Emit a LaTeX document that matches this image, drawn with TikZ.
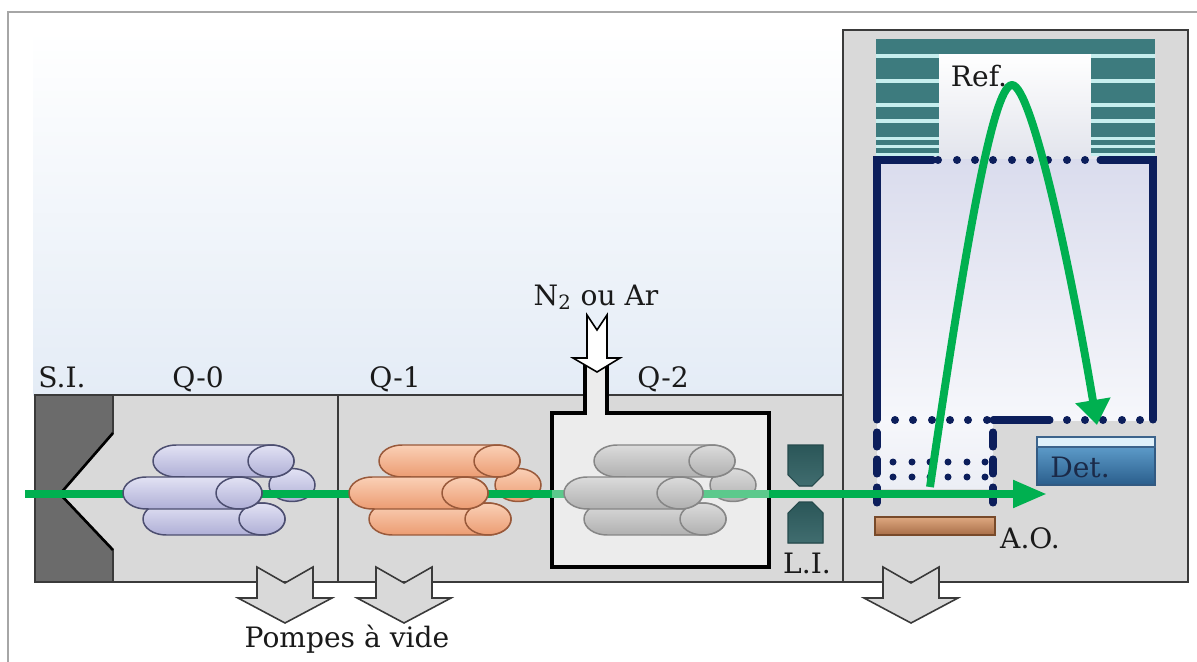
\documentclass[tikz,border=0pt]{standalone}
\usepackage{fontspec}
\setmainfont{DejaVu Serif}
\usetikzlibrary{arrows.meta}

\definecolor{beamgreen}{HTML}{00B050}
\definecolor{beamlight}{HTML}{5CC98C}
\definecolor{navy}{HTML}{0C1E5B}
\definecolor{stripe}{HTML}{3D7B7E}
\definecolor{stripegap}{HTML}{C6EEEE}
\definecolor{panel}{HTML}{D9D9D9}
\definecolor{sourcegray}{HTML}{6B6B6B}
\definecolor{edge}{HTML}{3A3A3A}
\definecolor{labelink}{HTML}{1A1A1A}
\definecolor{lavtop}{HTML}{E2E2F4}
\definecolor{lavbot}{HTML}{AFAFD6}
\definecolor{lavedge}{HTML}{4C4E70}
\definecolor{ortop}{HTML}{FAD0B6}
\definecolor{orbot}{HTML}{EC9C72}
\definecolor{oredge}{HTML}{99593A}

% one rod of a quadrupole: left x, top y, end-cap x, style
\newcommand\qrod[4]{%
  \path[#4] (#3,#2) -- ({#1+23},#2)
    arc[start angle=90,end angle=270,x radius=0.46cm,y radius=0.32cm]
    -- (#3,{#2+32})
    arc[start angle=-90,end angle=90,x radius=0.46cm,y radius=0.32cm] -- cycle;
  \path[#4] (#3,{#2+16}) ellipse[x radius=0.46cm,y radius=0.32cm];
}
% rods behind the beam (shift, style)
\newcommand\qback[2]{%
  \path[#2] ({292+#1},485) ellipse[x radius=0.46cm,y radius=0.33cm];
  \qrod{153+#1}{445}{271+#1}{#2}
  \qrod{143+#1}{503}{262+#1}{#2}
}
% rod in front of the beam (shift, style)
\newcommand\qfront[2]{%
  \qrod{123+#1}{477}{239+#1}{#2}
}
% hollow pumping arrow pointing down, centred on x
\newcommand\pumparrow[1]{%
  \filldraw[pump] ({#1-28},567) -- (#1,583) -- ({#1+28},567) -- ({#1+28},598)
    -- ({#1+47},598) -- (#1,623) -- ({#1-47},598) -- ({#1-28},598) -- cycle;
}

\begin{document}
\begin{tikzpicture}[x=0.02cm,y=-0.02cm,
  every node/.style={font=\fontsize{16}{19}\selectfont, text=labelink, inner sep=0pt},
  chamber/.style={draw=edge, fill=panel, line width=0.9pt},
  pump/.style={draw=edge, fill=panel, line width=0.9pt, line join=miter},
  rodA/.style={top color=lavtop, bottom color=lavbot, draw=lavedge, line width=0.85pt},
  rodB/.style={top color=ortop, bottom color=orbot, draw=oredge, line width=0.85pt},
  rodC/.style={top color=gray!28, bottom color=gray!62, draw=gray!95, line width=0.85pt},
  beam/.style={draw=beamgreen, line width=4.5pt},
  navyline/.style={draw=navy, line width=4pt, line cap=round},
  navydot/.style={fill=navy},
  lens/.style={draw=stripe!60!black, top color=stripe!70!black, bottom color=stripe!90!white!80!black, line width=0.6pt},
]
\useasboundingbox (0,0) rectangle (1197,662);
\clip (0,0) rectangle (1197,662);
\fill[white] (0,0) rectangle (1197,662);

% outer frame
\draw[gray!70, line width=1.2pt] (8,12) rectangle (1240,720);

% sky-like backdrop behind the instrument
\shade[top color=white, bottom color={rgb,255:red,228;green,236;blue,246}] (33,30) rectangle (843,395);

% low-pressure chamber with quadrupoles
\draw[chamber] (35,395) rectangle (843,582);
\draw[edge, line width=0.9pt] (338,395) -- (338,582);

% ion source
\filldraw[draw=edge, fill=sourcegray, line width=0.9pt]
  (35,395) -- (113,395) -- (113,433) -- (60,494) -- (113,550) -- (113,582) -- (35,582) -- cycle;
\draw[black, line width=1.5pt] (113,433) -- (60,494) -- (113,550);

% time-of-flight chamber
\draw[chamber] (843,30) rectangle (1188,582);

% reflectron region
\shade[top color=white, bottom color={rgb,255:red,226;green,228;blue,236}] (876,54) rectangle (1155,160);
\fill[stripegap] (876,54) rectangle (939,156);
\fill[stripegap] (1091,54) rectangle (1155,156);
\fill[stripe] (876,39) rectangle (1155,54);
\foreach \ya/\yb in {58/79, 83/103, 107/119, 123/137, 140/145, 148/153}{
  \fill[stripe] (876,\ya) rectangle (939,\yb);
  \fill[stripe] (1091,\ya) rectangle (1155,\yb);
}

% flight tube
\shade[top color={rgb,255:red,218;green,220;blue,237}, bottom color={rgb,255:red,246;green,247;blue,251}] (877,160) rectangle (1153,420);
\shade[top color={rgb,255:red,246;green,247;blue,251}, bottom color={rgb,255:red,236;green,238;blue,245}] (877,420) rectangle (993,488);
\draw[navyline] (933,160) -- (877,160) -- (877,420);
\draw[navyline] (1100,160) -- (1153,160) -- (1153,420);
\draw[navyline] (993,420) -- (1050,420);
\foreach \x in {938,957,975,993,1012,1030,1048,1067,1085}
  \fill[navydot] (\x,160) circle[radius=0.08cm];
\foreach \x in {895,913,932,950,968,987,1067,1085,1103,1122,1140}
  \fill[navydot] (\x,420) circle[radius=0.08cm];
% pusher grids
\foreach \x in {877,993}{
  \draw[navyline] (\x,432) -- (\x,447);
  \draw[navyline] (\x,459) -- (\x,474);
  \draw[navyline] (\x,487) -- (\x,503);
}
\foreach \x in {893,912,930,948,967,985}{
  \fill[navydot] (\x,462) circle[radius=0.07cm];
  \fill[navydot] (\x,477) circle[radius=0.07cm];
}

% detector
\shade[top color={rgb,255:red,92;green,154;blue,200}, bottom color={rgb,255:red,42;green,94;blue,140}, draw={rgb,255:red,50;green,90;blue,130}, line width=0.6pt] (1037,447) rectangle (1155,485);
\filldraw[fill={rgb,255:red,223;green,241;blue,251}, draw={rgb,255:red,60;green,100;blue,140}, line width=0.6pt] (1037,437) rectangle (1155,447);

% orthogonal accelerator plate
\shade[top color={rgb,255:red,222;green,168;blue,128}, bottom color={rgb,255:red,168;green,110;blue,72}, draw={rgb,255:red,120;green,74;blue,42}, line width=0.6pt] (875,517) rectangle (995,535);

% collision cell with gas inlet
\fill[gray!15] (552,413) rectangle (769,567);
\fill[gray!15] (585,360) rectangle (607,414);
\draw[black, line width=2.3pt, line join=miter]
  (585,363) -- (585,413) -- (552,413) -- (552,567) -- (769,567) -- (769,413) -- (607,413) -- (607,363);

% gas inlet arrow
\filldraw[fill=white, draw=black, line width=0.9pt, line join=miter]
  (587,315) -- (597,330) -- (607,315) -- (607,358) -- (620,358) -- (597,372)
  -- (573,358) -- (587,358) -- cycle;

% ion lens
\filldraw[lens] (788,445) -- (823,445) -- (823,475) -- (812,486) -- (799,486) -- (788,475) -- cycle;
\filldraw[lens] (799,502) -- (812,502) -- (823,513) -- (823,543) -- (788,543) -- (788,513) -- cycle;

% pumping ports
\pumparrow{285}
\pumparrow{404}
\pumparrow{911}

% quadrupole rods behind the beam
\qback{0}{rodA}
\qback{226}{rodB}
\qback{441}{rodC}

% ion beam through the quadrupoles
\coordinate (src) at (25,494);
\coordinate (cellin) at (552,494);
\coordinate (cellout) at (769,494);
\coordinate (beamend) at (1047,494);
\draw[beam] (src) -- (cellin);
\draw[beam, draw=beamlight] (cellin) -- (cellout);
\draw[beam, -{Triangle[length=0.68cm,width=0.52cm]}] (cellout) -- (beamend);

% quadrupole rods in front of the beam
\qfront{0}{rodA}
\qfront{226}{rodB}
\qfront{441}{rodC}

% reflected flight path
\coordinate (turn) at (930,487);
\coordinate (apex) at (1012,85);
\coordinate (detin) at (1097,425);
\draw[beam, line join=round, -{Triangle[length=0.5cm,width=0.68cm]}]
  (turn) .. controls (962.5,265) and (992,85) .. (apex)
  .. controls (1032,85) and (1072,275) .. (detin);

% labels
\node[anchor=base] (si) at (62,387) {S.I.};
\node[anchor=base] (q0) at (198,387) {Q-0};
\node[anchor=base] (q1) at (395,387) {Q-1};
\node[anchor=base] (q2) at (663,387) {Q-2};
\node[anchor=base] (gas) at (596,305) {N\textsubscript{2} ou Ar};
\node[anchor=base] (li) at (807,573) {L.I.};
\node[anchor=base] (ref) at (979,87) {Ref.};
\node[anchor=base, text={rgb,255:red,27;green,42;blue,72}] (det) at (1080,477) {Det.};
\node[anchor=base] (ao) at (1030,548) {A.O.};
\node[anchor=base] (pumps) at (347,647) {Pompes à vide};
\end{tikzpicture}
\end{document}
